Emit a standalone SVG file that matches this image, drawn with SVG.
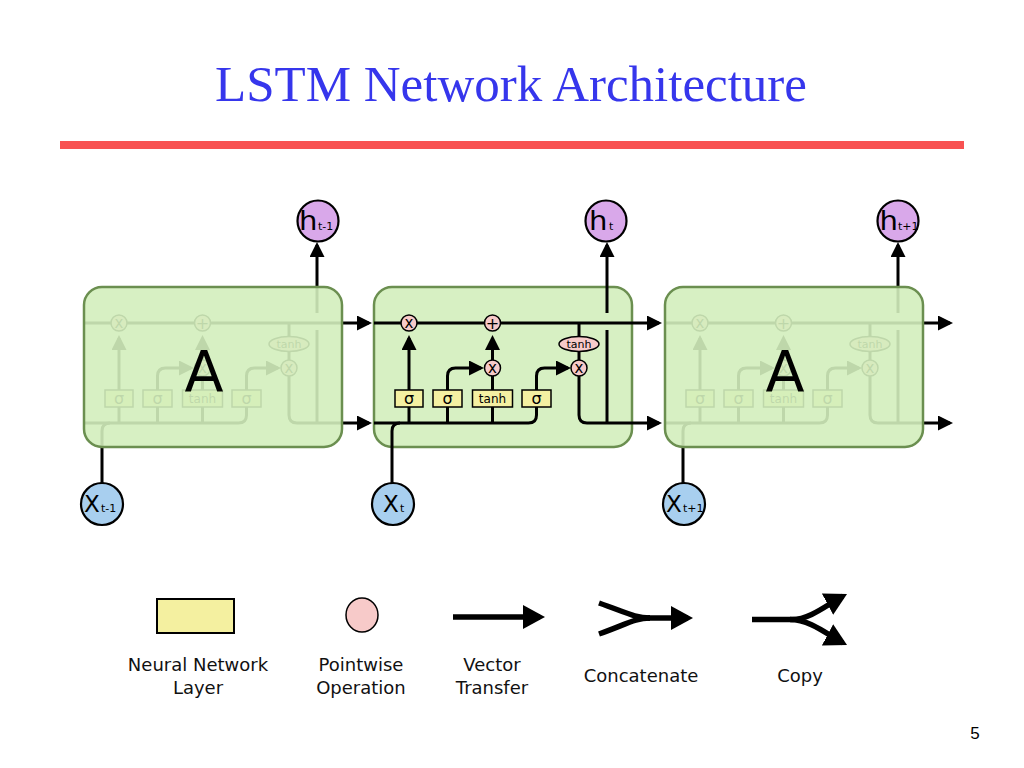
<svg xmlns="http://www.w3.org/2000/svg" width="1024" height="768" viewBox="0 0 1024 768">
<style>
.ln{fill:none;stroke:#000;stroke-width:3}
.box{fill:#d3eebc;fill-opacity:0.9;stroke:#6b8f50;stroke-width:2.5}
.nn{fill:#f4f0a2;stroke:#000;stroke-width:1.5}
.pw{fill:#f7cac9;stroke:#000;stroke-width:1.5}
.hc{fill:#d9a8ea;stroke:#000;stroke-width:2.2}
.xc{fill:#a8cfef;stroke:#000;stroke-width:2.2}
.t{font-family:"DejaVu Sans","Liberation Sans",sans-serif;fill:#000}
.big{font-size:27px}
.sub{font-size:11px}
.lg{fill:none;stroke:#000;stroke-width:5.5}
.lgt{font-family:"DejaVu Sans","Liberation Sans",sans-serif;font-size:18px;fill:#111;text-anchor:middle}
</style>
<defs>
<marker id="ah" markerUnits="userSpaceOnUse" markerWidth="15" markerHeight="15" refX="12" refY="7.5" orient="auto">
<path d="M0,0 L15,7.5 L0,15 Z" fill="#000"/>
</marker>
<marker id="ahb" markerUnits="userSpaceOnUse" markerWidth="22" markerHeight="24" refX="17" refY="12" orient="auto">
<path d="M0,0 L22,12 L0,24 Z" fill="#000"/>
</marker>
<g id="lines" class="ln">
<path d="M0 36H285" marker-end="url(#ah)"/>
<path d="M0 136H154.5Q162.5 136 162.5 128V120"/>
<path d="M18 196V144Q18 136 26 136"/>
<path d="M35 136V120"/>
<path d="M35 103V51" marker-end="url(#ah)"/>
<path d="M73.5 136V120"/>
<path d="M73.5 103V89Q73.5 81 81.5 81H107" marker-end="url(#ah)"/>
<path d="M118.5 136V120"/>
<path d="M118.5 103V89"/>
<path d="M118.5 73V51" marker-end="url(#ah)"/>
<path d="M162.5 103V89Q162.5 81 170.5 81H194" marker-end="url(#ah)"/>
<path d="M205 36V49.5"/>
<path d="M205 64.5V73"/>
<path d="M205 89V128Q205 136 213 136H285" marker-end="url(#ah)"/>
<path d="M233 136V43"/>
<path d="M233 26V-42" marker-end="url(#ah)"/>
</g>
<g id="ops">
<circle class="pw" cx="35" cy="36" r="8"/>
<circle class="pw" cx="118.5" cy="36" r="8"/>
<circle class="pw" cx="118.5" cy="81" r="8"/>
<circle class="pw" cx="205" cy="81" r="8"/>
<ellipse class="pw" cx="205" cy="57" rx="20" ry="7.5" stroke-width="1.2"/>
<rect class="nn" x="21" y="103" width="28" height="17"/>
<rect class="nn" x="59" y="103" width="29" height="17"/>
<rect class="nn" x="98.5" y="103" width="40" height="17"/>
<rect class="nn" x="148" y="103" width="29" height="17"/>
<g class="t" text-anchor="middle">
<text x="35" y="40.5" font-size="15">x</text>
<text x="118.5" y="41.5" font-size="16">+</text>
<text x="118.5" y="85.5" font-size="15">x</text>
<text x="205" y="85.5" font-size="15">x</text>
<text x="205" y="61" font-size="11">tanh</text>
<text x="35" y="117" font-size="16">σ</text>
<text x="73.5" y="117" font-size="16">σ</text>
<text x="118.5" y="116" font-size="12">tanh</text>
<text x="162.5" y="117" font-size="16">σ</text>
</g>
</g>
</defs>

<rect width="1024" height="768" fill="#fff"/>

<g id="title">
<text x="511" y="101" font-family="'Liberation Serif','Times New Roman',serif" font-size="51" fill="#3636ec" text-anchor="middle">LSTM Network Architecture</text>
<rect x="60" y="141" width="904" height="8" fill="#f85252"/>
</g>

<g id="cell-t" transform="translate(374,287)">
<rect class="box" x="0" y="0" width="258" height="160" rx="18"/>
</g>

<g id="connectors">
<use href="#lines" transform="translate(84,287)"/>
<use href="#lines" transform="translate(374,287)"/>
<use href="#lines" transform="translate(665,287)"/>
</g>

<g id="ops-prev" transform="translate(84,287)"><use href="#ops"/></g>
<g id="ops-t" transform="translate(374,287)"><use href="#ops"/></g>
<g id="ops-next" transform="translate(665,287)"><use href="#ops"/></g>

<g id="cell-prev" transform="translate(84,287)">
<rect class="box" x="0" y="0" width="258" height="160" rx="18"/>
<text class="t" x="120" y="105" font-size="57" text-anchor="middle" fill="#111">A</text>
</g>
<g id="cell-next" transform="translate(665,287)">
<rect class="box" x="0" y="0" width="258" height="160" rx="18"/>
<text class="t" x="120" y="105" font-size="57" text-anchor="middle" fill="#111">A</text>
</g>

<g id="h-prev">
<circle class="hc" cx="318" cy="221" r="20.5"/>
<text class="t big" transform="translate(299,230) scale(1.08,1)">h</text>
<text class="t sub" x="318" y="230">t-1</text>
</g>
<g id="h-t">
<circle class="hc" cx="606" cy="221" r="20.5"/>
<text class="t big" transform="translate(589,230) scale(1.08,1)">h</text>
<text class="t sub" x="609" y="230">t</text>
</g>
<g id="h-next">
<circle class="hc" cx="898" cy="221" r="20.5"/>
<text class="t big" transform="translate(879.5,230) scale(1.08,1)">h</text>
<text class="t sub" x="898" y="230">t+1</text>
</g>

<g id="x-prev">
<circle class="xc" cx="102" cy="504" r="21"/>
<text class="t" x="84" y="512" font-size="23">X</text>
<text class="t sub" x="101" y="512">t-1</text>
</g>
<g id="x-t">
<circle class="xc" cx="393" cy="504" r="21"/>
<text class="t" x="383" y="512" font-size="23">X</text>
<text class="t sub" x="400" y="512">t</text>
</g>
<g id="x-next">
<circle class="xc" cx="684" cy="504" r="21"/>
<text class="t" x="666" y="512" font-size="23">X</text>
<text class="t sub" x="683" y="512">t+1</text>
</g>

<g id="legend-layer">
<rect x="157" y="599" width="77" height="34" fill="#f4f0a0" stroke="#000" stroke-width="2"/>
<text class="lgt" x="198" y="671">Neural Network</text>
<text class="lgt" x="198" y="694">Layer</text>
</g>
<g id="legend-pointwise">
<ellipse cx="362" cy="615" rx="16" ry="17" fill="#f7cac9" stroke="#000" stroke-width="1.5"/>
<text class="lgt" x="361" y="671">Pointwise</text>
<text class="lgt" x="361" y="694">Operation</text>
</g>
<g id="legend-vector">
<path class="lg" d="M453 617H540" marker-end="url(#ahb)"/>
<text class="lgt" x="492" y="671">Vector</text>
<text class="lgt" x="492" y="694">Transfer</text>
</g>
<g id="legend-concat">
<path class="lg" d="M599 603C625 612 635 618 650 618"/>
<path class="lg" d="M599 634C625 625 635 618 650 618"/>
<path class="lg" d="M648 618H688" marker-end="url(#ahb)"/>
<text class="lgt" x="641" y="682">Concatenate</text>
</g>
<g id="legend-copy">
<path class="lg" d="M752 619.5H792C810 619.5 828 604 842.6 596.3" marker-end="url(#ahb)"/>
<path class="lg" d="M790 619.5C810 619.5 828 635 842.6 642.7" marker-end="url(#ahb)"/>
<text class="lgt" x="800" y="682">Copy</text>
</g>

<text x="975" y="739" font-family="'Liberation Sans',Arial,sans-serif" font-size="17" fill="#000" text-anchor="middle">5</text>
</svg>
